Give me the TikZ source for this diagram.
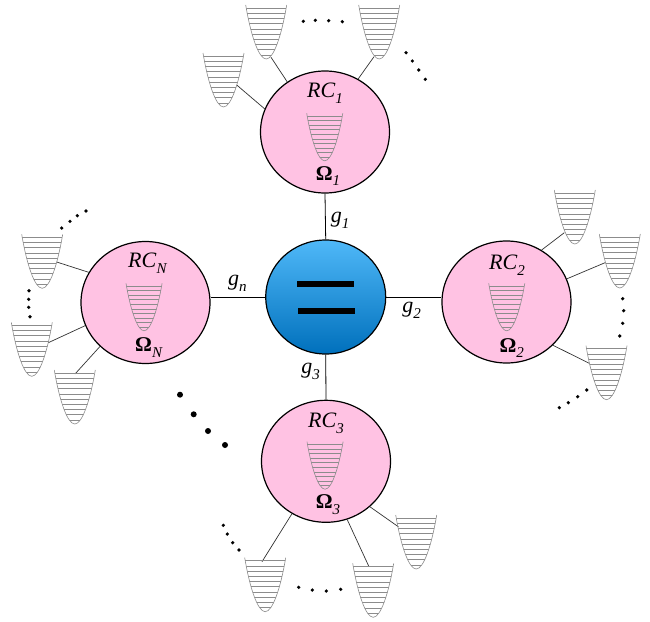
\documentclass[tikz,border=0pt]{standalone}
\usepackage{fontspec}
\setmainfont{Liberation Serif}
\usetikzlibrary{shapes.geometric}
\definecolor{rcpink}{HTML}{FFC2E3}
\definecolor{hubtop}{HTML}{4FB8F8}
\definecolor{hubbot}{HTML}{0070BC}
\definecolor{wellgray}{HTML}{8C8C8C}
\definecolor{linkgray}{HTML}{333333}
\newcommand{\rclabel}[2]{\textit{#1}\raisebox{-0.28em}{\fontsize{15}{15}\selectfont\textit{#2}}}
\newcommand{\omlabel}[1]{\textbf{Ω}\raisebox{-0.28em}{\fontsize{15}{15}\selectfont\textit{#1}}}
\tikzset{
  x=1pt,y=-1pt,
  rcnode/.style={ellipse,draw=black,line width=1.2pt,fill=rcpink,minimum width=129pt,minimum height=122pt,inner sep=0pt},
  hubnode/.style={ellipse,draw=black,line width=1.2pt,top color=hubtop,bottom color=hubbot,minimum width=120pt,minimum height=114pt,inner sep=0pt},
  barnode/.style={rectangle,fill=black,minimum width=57pt,minimum height=6pt,inner sep=0pt},
  lab/.style={inner sep=0pt,font=\fontsize{22}{22}\selectfont},
  omlab/.style={inner sep=0pt,font=\fontsize{21}{21}\selectfont},
  link/.style={draw=linkgray,line width=0.7pt},
  couple/.style={draw=black,line width=0.8pt},
  smalldot/.style={fill=black,circle,inner sep=0pt,minimum size=3.6pt},
  bigdot/.style={fill=black,circle,inner sep=0pt,minimum size=6pt},
  well/.pic={
    \begin{scope}
      \clip (0,0) .. controls (5,30) and (13,54) .. (20.5,54) .. controls (28,54) and (36,30) .. (41,0) -- cycle;
      \foreach \yy in {3,8.2,13.4,18.6,23.8,29,34.2,39.4,44.6,49.8}
        \draw[wellgray,line width=0.55pt] (0,\yy) -- (41,\yy);
    \end{scope}
    \draw[wellgray,line width=0.6pt] (0,0) .. controls (5,30) and (13,54) .. (20.5,54) .. controls (28,54) and (36,30) .. (41,0);
  }
}
\newcommand{\outerwell}[2]{\pic at (#1) {well}; \coordinate (#2) at (#1);}
\newcommand{\innerwell}[1]{\pic[scale=0.88] at (#1) {well};}
\begin{document}
\begin{tikzpicture}
\useasboundingbox (0,0) rectangle (650,621);
\fill[white] (0,0) rectangle (650,621);

% free ends of the well connectors
\coordinate (cA) at (236.7,85);
\coordinate (cB) at (271,57.3);
\coordinate (cC) at (374,56.7);
\coordinate (cD) at (564.3,232.7);
\coordinate (cE) at (605,262.7);
\coordinate (cF) at (589.3,363.3);
\coordinate (cG) at (56.7,262);
\coordinate (cH) at (48.3,342.7);
\coordinate (cI) at (75,374);
\coordinate (cJ) at (262,561.7);
\coordinate (cK) at (369,566.7);
\coordinate (cL) at (398.3,526.7);

% circles
\node[rcnode] (rc1) at (325,132) {};
\node[rcnode] (rc2) at (506.5,302) {};
\node[rcnode] (rcN) at (145.5,302.5) {};
\node[rcnode] (rc3) at (326,461.3) {};
\node[hubnode] (hub) at (325.7,297) {};
\node[barnode] (bar1) at (325.8,283.7) {};
\node[barnode] (bar2) at (326.5,310.5) {};

% hub couplings
\draw[couple] (hub.north) -- (rc1.south);
\draw[couple] (hub.south) -- (rc3.north);
\draw[couple] (hub.east) -- (rc2.west |- hub.east);
\draw[couple] (hub.west) -- (rcN.east |- hub.west);

% well connectors
\draw[link] (cA) -- (rc1.159.3);
\draw[link] (cB) -- (rc1.127);
\draw[link] (cC) -- (rc1.58.1);
\draw[link] (cD) -- (rc2.56.8);
\draw[link] (cE) -- (rc2.21.3);
\draw[link] (cF) -- (rc2.-43.7);
\draw[link] (cG) -- (rcN.152.9);
\draw[link] (cH) -- (rcN.201.2);
\draw[link] (cI) -- (rcN.224.6);
\draw[link] (cJ) -- (rc3.237.2);
\draw[link] (cK) -- (rc3.290.4);
\draw[link] (cL) -- (rc3.314.6);

% outer wells
\pic at (203,53) {well};
\pic at (245.7,5) {well};
\pic at (358.7,5) {well};
\pic at (554.3,190) {well};
\pic at (599.3,234) {well};
\pic at (586,345.7) {well};
\pic at (21.7,234.3) {well};
\pic at (11.3,322.3) {well};
\pic at (54.3,370) {well};
\pic at (244.7,557.7) {well};
\pic at (352.7,563.3) {well};
\pic at (395.7,515) {well};

% inner wells
\innerwell{306.7,113.3}
\innerwell{488.7,283.3}
\innerwell{126,283.3}
\innerwell{307,441.7}

% labels
\node[lab] (lrc1) at (325,93) {\rclabel{RC}{1}};
\node[lab] (lrc2) at (507,265) {\rclabel{RC}{2}};
\node[lab] (lrcN) at (147.7,263.3) {\rclabel{RC}{N}};
\node[lab] (lrc3) at (326,423.3) {\rclabel{RC}{3}};
\node[omlab] (lo1) at (328,176) {\omlabel{1}};
\node[omlab] (lo2) at (511.7,348) {\omlabel{2}};
\node[omlab] (loN) at (149,347.7) {\omlabel{N}};
\node[omlab] (lo3) at (328,504.3) {\omlabel{3}};
\node[lab] (g1) at (340,220) {\rclabel{g}{1}};
\node[lab] (g2) at (411.7,310) {\rclabel{g}{2}};
\node[lab] (g3) at (310.7,371.7) {\rclabel{g}{3}};
\node[lab] (gn) at (237.3,283.3) {\rclabel{g}{n}};

% dots
\foreach \p/\n in {303.3/21.3,315.3/20.3,328.7/20.7,342.3/21.7,
  406/52.7,412.3/61,418.7/70,425.3/79.3,
  622.7/298.7,623.7/310.7,622.7/323.3,619.7/336,
  586.7/390,577.7/396.7,568.3/402.7,559.3/407.7,
  61.7/228,70/221.3,77.3/215.7,86/211,
  29/290.7,28.7/299.3,28.7/307.3,30/316.7,
  223.3/525.3,227.3/534,232.7/542.7,239/550,
  298.7/587.3,312.3/590,326.3/591,340.7/589.3}
  \node[smalldot] at (\p,\n) {};
\foreach \p/\n in {180/394.7,193.7/414.3,208/431,225/445}
  \node[bigdot] at (\p,\n) {};
\end{tikzpicture}
\end{document}
